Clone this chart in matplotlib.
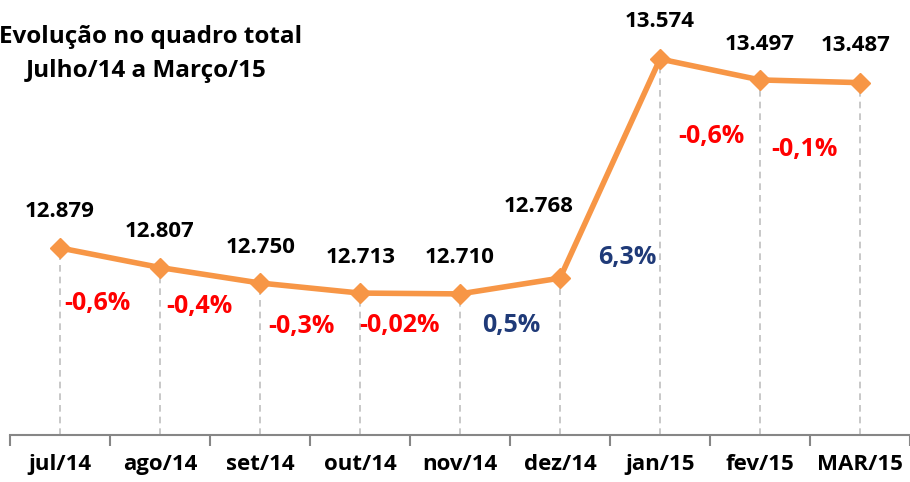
import matplotlib.pyplot as plt
import numpy as np

# data
months = ['jul/14', 'ago/14', 'set/14', 'out/14', 'nov/14', 'dez/14', 'jan/15', 'fev/15', 'MAR/15']
staff = [12879, 12807, 12750, 12713, 12710, 12768, 13574, 13497, 13487]
value_labels = ['12.879', '12.807', '12.750', '12.713', '12.710', '12.768', '13.574', '13.497', '13.487']
pct_labels = ['-0,6%', '-0,4%', '-0,3%', '-0,02%', '0,5%', '6,3%', '-0,6%', '-0,1%']

# label placement (pixels, relative to the point)
value_offsets = [(0, 36), (0, 36), (1, 36), (1, 36), (0, 36), (-21, 72), (0, 37), (0, 35), (-4, 37)]
pct_offsets = [(37, -56), (39, -39), (41, -43), (39, -32), (51, -32), (67, 21), (51, -78), (44, -70)]

plt.rcParams['font.family'] = ['Open Sans', 'DejaVu Sans']

fig = plt.figure(figsize=(9.1, 4.82), dpi=100)
ax = fig.add_axes([10 / 910, 47 / 482, 900 / 910, 435 / 482])

x = np.arange(len(months))
ax.set_xlim(-0.5, len(months) - 0.5)
ax.set_ylim(12191, 13791)

# drop lines
ax.vlines(x, 12191, staff, colors='#BFBFBF', linestyles=(0, (4, 3)), linewidth=1.2, zorder=1)

ax.plot(x, staff, color='#F79646', linewidth=4, marker='D', markersize=10,
        markerfacecolor='#F79646', markeredgecolor='#F79646', zorder=3)

for i, (v, lab) in enumerate(zip(staff, value_labels)):
    dx, dy = value_offsets[i]
    ax.annotate(lab, xy=(i, v), xytext=(dx, dy), textcoords='offset pixels',
                ha='center', va='center', fontsize=16, fontweight='bold', color='black')

for i, lab in enumerate(pct_labels):
    dx, dy = pct_offsets[i]
    col = '#1F3A78' if not lab.startswith('-') else '#FF0000'
    ax.annotate(lab, xy=(i, staff[i]), xytext=(dx, dy), textcoords='offset pixels',
                ha='center', va='center', fontsize=18, fontweight='bold', color=col)

fig.text(151 / 910, 1 - 37 / 482, 'Evolução no quadro total', ha='center', va='center',
         fontsize=17.5, fontweight='bold')
fig.text(146 / 910, 1 - 71 / 482, 'Julho/14 a Março/15', ha='center', va='center',
         fontsize=17.5, fontweight='bold')

for s in ['top', 'right', 'left']:
    ax.spines[s].set_visible(False)
ax.spines['bottom'].set_color('#868686')
ax.spines['bottom'].set_linewidth(1.5)
ax.set_yticks([])

ax.set_xticks(np.arange(-0.5, len(months), 1.0))
ax.set_xticklabels([])
ax.tick_params(axis='x', which='major', direction='out', length=8, width=1.5, color='#868686')
ax.set_xticks(x, minor=True)
ax.set_xticklabels(months, minor=True, fontsize=16, fontweight='bold')
ax.tick_params(axis='x', which='minor', length=0, pad=14)

fig.savefig('out.png', dpi=100)
